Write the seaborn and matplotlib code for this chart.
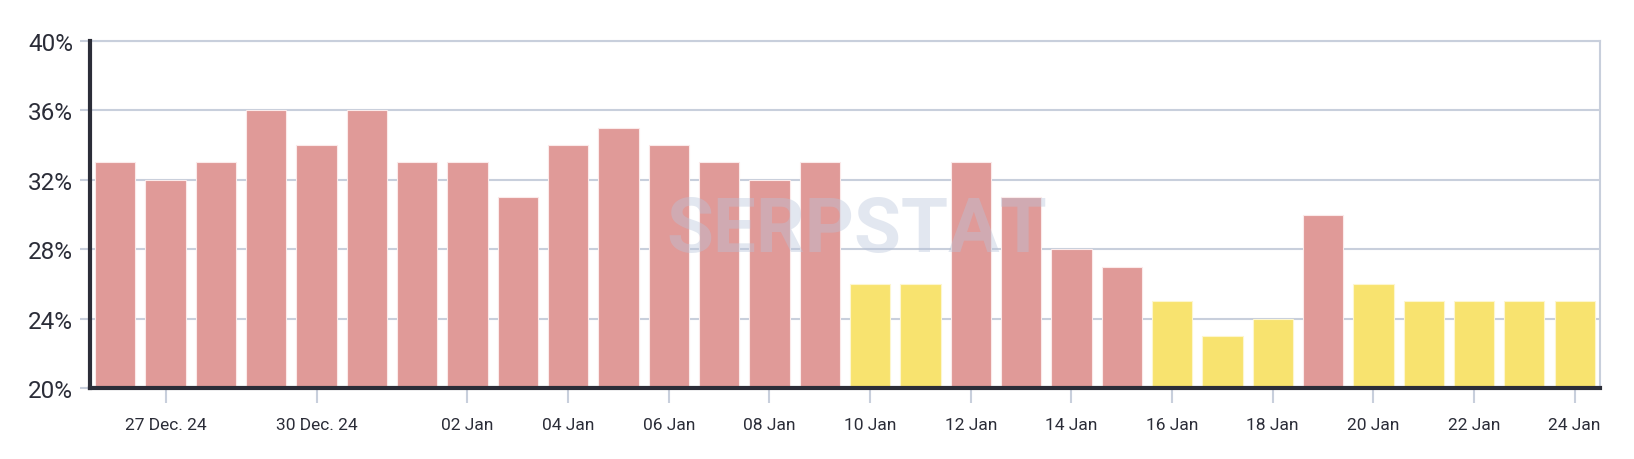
import matplotlib
matplotlib.use("Agg")
import matplotlib.pyplot as plt
import seaborn as sns
import pandas as pd

# ---- data ----
days = ["26 Dec", "27 Dec", "28 Dec", "29 Dec", "30 Dec", "31 Dec", "01 Jan", "02 Jan",
        "03 Jan", "04 Jan", "05 Jan", "06 Jan", "07 Jan", "08 Jan", "09 Jan", "10 Jan",
        "11 Jan", "12 Jan", "13 Jan", "14 Jan", "15 Jan", "16 Jan", "17 Jan", "18 Jan",
        "19 Jan", "20 Jan", "21 Jan", "22 Jan", "23 Jan", "24 Jan"]
values = [33, 32, 33, 36, 34, 36, 33, 33, 31, 34, 35, 34, 33, 32, 33, 26,
          26, 33, 31, 28, 27, 25, 23, 24, 30, 26, 25, 25, 25, 25]
groups = ["high", "high", "high", "high", "high", "high", "high", "high", "high", "high",
          "high", "high", "high", "high", "high", "low", "low", "high", "high", "high",
          "high", "low", "low", "low", "high", "low", "low", "low", "low", "low"]
tick_days = ["27 Dec", "30 Dec", "02 Jan", "04 Jan", "06 Jan", "08 Jan", "10 Jan",
             "12 Jan", "14 Jan", "16 Jan", "18 Jan", "20 Jan", "22 Jan", "24 Jan"]
tick_labels = ["27 Dec. 24", "30 Dec. 24", "02 Jan", "04 Jan", "06 Jan", "08 Jan", "10 Jan",
               "12 Jan", "14 Jan", "16 Jan", "18 Jan", "20 Jan", "22 Jan", "24 Jan"]
y_ticks = [20, 24, 28, 32, 36, 40]

palette = {"high": "#e09a98", "low": "#f8e36f"}
grid_c = "#c8cfdc"
dark = "#2b2d38"

df = pd.DataFrame({"day": days, "value": values, "group": groups})

sns.set_theme(style="white")
plt.rcParams["font.family"] = ["Roboto", "DejaVu Sans"]

fig = plt.figure(figsize=(16.34, 4.6), dpi=100)
ax = fig.add_axes([0.0551, 0.154, 0.924, 0.755])

sns.barplot(data=df, x="day", y="value", hue="group", palette=palette,
            dodge=False, legend=False, width=0.8, ax=ax, saturation=1,
            edgecolor="#fbeaea", linewidth=0.8, zorder=2)
for p in ax.patches:
    if p.get_facecolor()[1] > 0.8:
        p.set_edgecolor("#fdf6cf")

ax.set_ylim(20, 40)
ax.set_xlim(-0.5, len(days) - 0.5)
ax.set_yticks(y_ticks)
ax.set_yticklabels([f"{v}%" for v in y_ticks])
ax.yaxis.grid(True, color=grid_c, linewidth=1.5, zorder=0)
ax.set_axisbelow(True)

pos = [days.index(d) for d in tick_days]
ax.set_xticks(pos)
ax.set_xticklabels(tick_labels)
ax.set_xlabel("")
ax.set_ylabel("")

ax.tick_params(axis="x", length=11, width=1.5, color=grid_c, labelsize=12.5,
               labelcolor=dark, pad=10, direction="out", bottom=True)
ax.tick_params(axis="y", length=7, width=1.5, color=grid_c, labelsize=17.5,
               labelcolor=dark, pad=5, direction="out", left=True)

for s in ["top", "right"]:
    ax.spines[s].set_visible(True)
    ax.spines[s].set_color(grid_c)
    ax.spines[s].set_linewidth(1.5)
for s in ["left", "bottom"]:
    ax.spines[s].set_visible(True)
    ax.spines[s].set_color(dark)
    ax.spines[s].set_linewidth(3)
    ax.spines[s].set_zorder(5)

# watermark
ax.text(0.508, 0.455, "SERPSTAT", transform=ax.transAxes, ha="center", va="center",
        fontsize=55, fontweight="bold", color="#b8c4da", alpha=0.4, zorder=4,
        family=["Roboto", "DejaVu Sans"])

fig.savefig("out.png", dpi=100)
